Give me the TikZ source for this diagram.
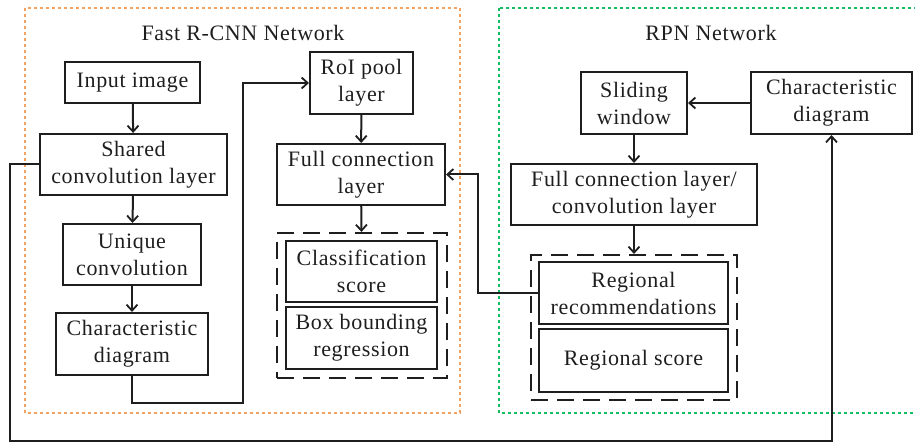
\documentclass[tikz,border=0pt]{standalone}
\usepackage{fontspec}
\setmainfont{Liberation Serif}[LetterSpace=3]
\usetikzlibrary{arrows.meta}
\definecolor{ink}{RGB}{30,30,30}
\definecolor{fastorange}{RGB}{244,162,98}
\definecolor{rpngreen}{RGB}{20,190,95}
\tikzset{
  box/.style={draw=ink, line width=2.1pt, align=center, inner sep=0pt,
    text=ink, font=\fontsize{22}{27}\selectfont},
  dashbox/.style={draw=ink, line width=2.1pt, dash pattern=on 17pt off 9pt, inner sep=0pt},
  conn/.style={draw=ink, line width=2pt, -{Straight Barb[length=6pt,width=11pt,line width=1.8pt]}},
  frame/.style={line width=2.2pt, dash pattern=on 3pt off 3pt},
  title/.style={text=ink, font=\fontsize{22}{27}\selectfont}
}
\begin{document}
\begin{tikzpicture}[x=1pt,y=-1pt]
\useasboundingbox (0,0) rectangle (915,443);

% network frames
\draw[frame, fastorange] (25,8) rectangle (460,413);
\draw[frame, rpngreen] (499,8) rectangle (930,413);
\node[title] (tfast) at (243,33) {Fast R-CNN Network};
\node[title] (trpn) at (711,33) {RPN Network};

% Fast R-CNN branch
\node[box, minimum width=135pt, minimum height=41pt] (inp) at (132.5,82.5) {Input image};
\node[box, minimum width=187pt, minimum height=61pt] (shared) at (133.5,164.5) {Shared\\convolution layer};
\node[box, minimum width=138pt, minimum height=61pt] (uniq) at (132,254.5) {Unique\\convolution};
\node[box, minimum width=152pt, minimum height=62pt] (charL) at (132,344) {Characteristic\\diagram};
\node[box, minimum width=103pt, minimum height=62pt] (roi) at (361.5,83) {RoI pool\\layer};
\node[box, minimum width=168pt, minimum height=61pt] (fcl) at (361,174.5) {Full connection\\layer};
\node[dashbox, minimum width=170pt, minimum height=145pt] (dashL) at (362,305.5) {};
\node[box, minimum width=151pt, minimum height=61pt] (cls) at (361.5,271.5) {Classification\\score};
\node[box, minimum width=151pt, minimum height=62pt] (bbr) at (361.5,338) {Box bounding\\regression};

% RPN branch
\node[box, minimum width=106pt, minimum height=62pt] (slide) at (634,103) {Sliding\\window};
\node[box, minimum width=161pt, minimum height=62pt] (charR) at (831.5,103) {Characteristic\\diagram};
\node[box, minimum width=246pt, minimum height=61pt] (fcr) at (634,194.5) {Full connection layer/\\convolution layer};
\node[dashbox, minimum width=206pt, minimum height=145pt] (dashR) at (634,327.5) {};
\node[box, minimum width=189pt, minimum height=62pt] (regrec) at (633.5,293) {Regional\\recommendations};
\node[box, minimum width=189pt, minimum height=63pt] (regsc) at (633.5,360.5) {Regional score};

% routing points
\coordinate (loopL) at (243,403);
\coordinate (loopB) at (10,441);
\coordinate (back) at (478,293);

% connectors
\draw[conn] (inp) -- (shared);
\draw[conn] (shared) -- (uniq);
\draw[conn] (uniq) -- (charL);
\draw[conn] (charL.south) |- (loopL) |- (roi.west);
\draw[conn] (roi) -- (fcl);
\draw[conn] (fcl) -- (dashL);
\draw[conn] (shared.west) -| (loopB) -| (charR.south);
\draw[conn] (charR) -- (slide);
\draw[conn] (slide) -- (fcr);
\draw[conn] (fcr) -- (dashR);
\draw[conn] (regrec.west) -- (back) |- (fcl.east);
\end{tikzpicture}
\end{document}
